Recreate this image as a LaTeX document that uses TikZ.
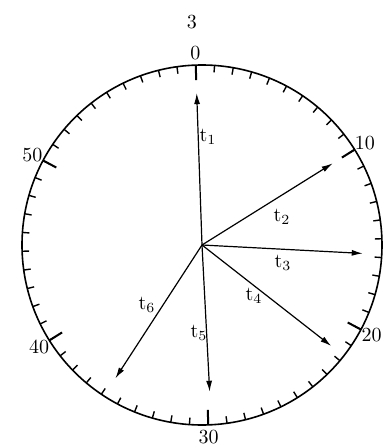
\documentclass[tikz,border=0pt]{standalone}
\usetikzlibrary{arrows.meta}

\tikzset{
  vec/.style={line width=0.6pt,-{Latex[length=5.5pt,width=3pt]}},
  minortick/.style={line width=0.7pt},
  majortick/.style={line width=1pt},
  dialnum/.style={inner sep=0pt},
}

\begin{document}
\begin{tikzpicture}[x=0.5pt,y=0.5pt]
    \useasboundingbox (-202,-201) rectangle (185,245);

    \def\rad{180}   % radius of the dial
    \def\rot{2}     % the dial is turned a little
    \coordinate (O) at (0,0);

    % Dial with 60 marks
    \draw[line width=0.8pt] (O) circle (\rad);
    \foreach \m in {0,...,59}{
      \pgfmathsetmacro\ang{90+\rot-6*\m}
      \draw[minortick] (\ang:\rad) -- (\ang:\rad-7);
    }
    \foreach \m in {0,10,...,50}{
      \pgfmathsetmacro\ang{90+\rot-6*\m}
      \draw[majortick] (\ang:\rad) -- (\ang:\rad-15);
      \node[dialnum] (num\m) at (\ang:192) {\m};
    }
    \node[dialnum] (extra) at (-10,223) {3};

    % End points of the vectors
    \coordinate (e1) at (92:152);
    \coordinate (e2) at (32:154);
    \coordinate (e3) at (-3:161);
    \coordinate (e4) at (-38:164);
    \coordinate (e5) at (-87:147);
    \coordinate (e6) at (-123:159);

    % Vectors t_1 ... t_6
    \foreach \i in {1,...,6}
      \draw[vec] (O) -- (e\i);

    % Labels
    \node (t1) at (6,108)   {$\mathrm{t}_1$};
    \node (t2) at (80,28)   {$\mathrm{t}_2$};
    \node (t3) at (81,-18)  {$\mathrm{t}_3$};
    \node (t4) at (52,-51)  {$\mathrm{t}_4$};
    \node (t5) at (-3,-88)  {$\mathrm{t}_5$};
    \node (t6) at (-55,-60) {$\mathrm{t}_6$};
\end{tikzpicture}
\end{document}
